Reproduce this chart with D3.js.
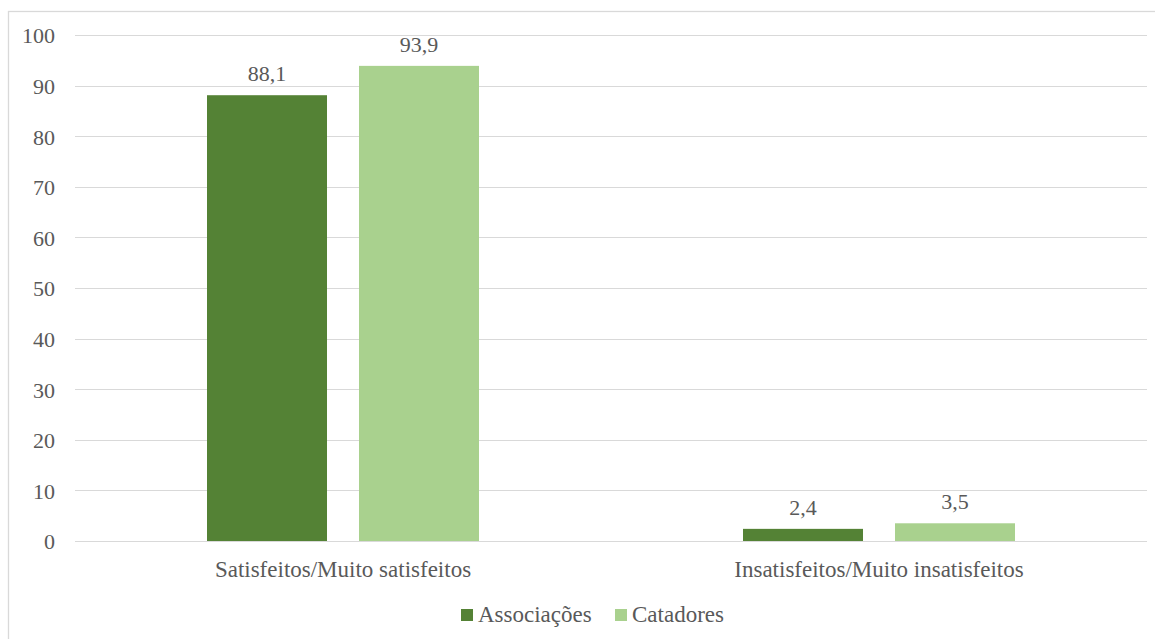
<!DOCTYPE html>
<html>
<head>
<meta charset="utf-8">
<script src="https://cdn.jsdelivr.net/npm/d3@7"></script>
<style>
html,body{margin:0;padding:0;background:#fff;}
svg{display:block;}
</style>
</head>
<body>
<svg id="chart" width="1155" height="639"></svg>
<script>
const categories = ["Satisfeitos/Muito satisfeitos", "Insatisfeitos/Muito insatisfeitos"];
const seriesNames = ["Associações", "Catadores"];
const associacoes = [88.1, 2.4];
const catadores = [93.9, 3.5];
const yTicks = [0, 10, 20, 30, 40, 50, 60, 70, 80, 90, 100];
const colors = ["#548235", "#A9D18E"];

const FONT = "'Liberation Serif', Tinos, 'Times New Roman', 'DejaVu Serif', serif";
const TXT = "#595959";

const svg = d3.select("#chart");
const W = 1155, H = 639;
const m = {left: 75, top: 35};
const plotW = 1147 - 75, plotH = 541 - 35;

svg.append("rect").attr("x", 8.5).attr("y", 11.5).attr("width", W + 10).attr("height", H + 10)
  .attr("fill", "none").attr("stroke", "#d9d9d9").attr("stroke-width", 1.3);

const g = svg.append("g").attr("transform", `translate(${m.left},${m.top})`);

const x0 = d3.scaleBand().domain(categories).range([0, plotW]).paddingInner(0).paddingOuter(0);
const y = d3.scaleLinear().domain([0, 100]).range([plotH, 0]);

g.append("g").selectAll("line").data(yTicks).join("line")
  .attr("x1", 0).attr("x2", plotW)
  .attr("y1", d => Math.round(y(d)) + 0.5).attr("y2", d => Math.round(y(d)) + 0.5)
  .attr("stroke", "#d9d9d9").attr("stroke-width", 1);

const yAxis = d3.axisLeft(y).tickValues(yTicks).tickSize(0).tickPadding(20).tickFormat(d3.format("d"));
const ya = g.append("g").call(yAxis).attr("font-family", null).attr("font-size", null);
ya.select(".domain").remove();
ya.selectAll("text").attr("fill", TXT)
  .style("font-family", FONT).style("font-size", "22px").attr("dy", "0.36em");

const barW = 120, gap = 32;
const x1 = d3.scaleBand().domain(seriesNames).range([0, 2 * barW + gap]).paddingInner(0.2105).paddingOuter(0);

const data = categories.map((c, i) => ({cat: c, vals: [
  {s: seriesNames[0], v: associacoes[i]},
  {s: seriesNames[1], v: catadores[i]}
]}));

const groups = g.selectAll(".grp").data(data).join("g")
  .attr("transform", d => `translate(${x0(d.cat) + x0.bandwidth() / 2 - (2 * barW + gap) / 2},0)`);

groups.selectAll("rect").data(d => d.vals).join("rect")
  .attr("x", d => x1(d.s))
  .attr("width", x1.bandwidth())
  .attr("y", d => y(d.v))
  .attr("height", d => plotH - y(d.v))
  .attr("fill", (d, i) => colors[i]);

groups.selectAll(".lbl").data(d => d.vals).join("text")
  .attr("class", "lbl")
  .attr("x", d => x1(d.s) + x1.bandwidth() / 2)
  .attr("y", d => y(d.v) - 14)
  .attr("text-anchor", "middle")
  .attr("fill", TXT)
  .style("font-family", FONT).style("font-size", "22px")
  .text(d => d3.format(".1f")(d.v).replace(".", ","));

g.append("g").selectAll("text").data(categories).join("text")
  .attr("x", d => x0(d) + x0.bandwidth() / 2)
  .attr("y", plotH + 36)
  .attr("text-anchor", "middle")
  .attr("fill", TXT)
  .style("font-family", FONT).style("font-size", "23px")
  .text(d => d);

const legend = svg.append("g");
const legItems = [{name: seriesNames[0], x: 461}, {name: seriesNames[1], x: 615}];
legItems.forEach((it, i) => {
  legend.append("rect").attr("x", it.x).attr("y", 609).attr("width", 12).attr("height", 12).attr("fill", colors[i]);
  legend.append("text").attr("x", it.x + 17).attr("y", 622).attr("fill", TXT)
    .style("font-family", FONT).style("font-size", "23px").text(it.name);
});
</script>
</body>
</html>
